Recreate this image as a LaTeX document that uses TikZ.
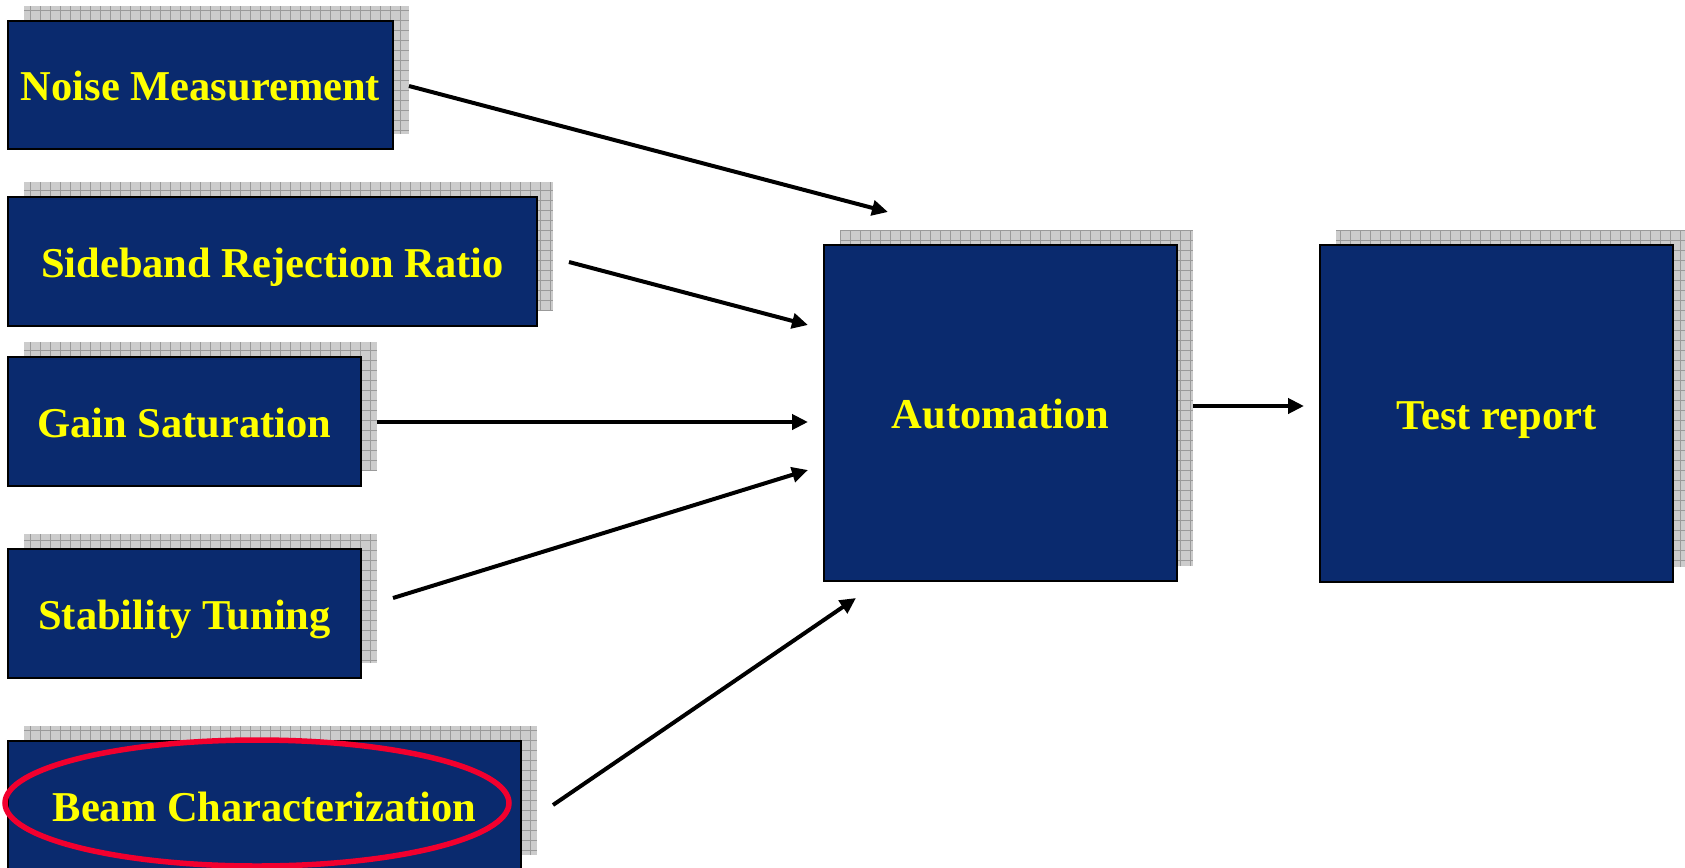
\documentclass[tikz,border=0pt]{standalone}
\usepackage{fontspec}
\setmainfont{Liberation Serif}
\usetikzlibrary{arrows.meta,backgrounds}
\definecolor{boxnavy}{HTML}{0A2A6E}
\definecolor{txtyellow}{HTML}{FFFF00}
\definecolor{shadowgray}{HTML}{CCCCCC}
\definecolor{gridgray}{HTML}{9A9A9A}
\definecolor{ringred}{HTML}{F2002E}
\tikzset{
  blockbox/.style={draw=black, line width=2.5pt, fill=boxnavy, text=txtyellow,
    font=\bfseries\fontsize{42.5}{50}\selectfont, anchor=north west,
    text height=31pt, text depth=0pt,
    inner sep=0pt, outer sep=0pt},
  flowarrow/.style={draw=black, line width=4pt, -{Triangle[length=16pt,width=15pt]}},
  shadowfill/.style={fill=shadowgray},
  shadowgrid/.style={draw=gridgray, line width=0.8pt},
  redring/.style={draw=ringred, line width=5.5pt}
}
\newcommand{\boxshadow}[1]{%
  \fill[shadowfill] ([shift={(16,-15)}]#1.south west) rectangle ([shift={(16,-15)}]#1.north east);
  \begin{scope}
    \clip ([shift={(16,-15)}]#1.south west) rectangle ([shift={(16,-15)}]#1.north east);
    \draw[shadowgrid, step=10pt] ([shift={(16,-15)}]#1.south west) grid ([shift={(16,-15)}]#1.north east);
  \end{scope}
}
\begin{document}
\begin{tikzpicture}[x=1pt,y=-1pt]
\useasboundingbox (0,0) rectangle (1685,867);
\node[blockbox, minimum width=385pt, minimum height=128pt] (noise) at (8,21) {Noise Measurement};
\node[blockbox, minimum width=529pt, minimum height=129pt] (side) at (8,197) {Sideband Rejection Ratio};
\node[blockbox, minimum width=353pt, minimum height=129pt] (gain) at (8,357) {Gain Saturation};
\node[blockbox, minimum width=353pt, minimum height=129pt] (stab) at (8,549) {Stability Tuning};
\node[blockbox, minimum width=513pt, minimum height=129pt] (beam) at (8,741) {Beam Characterization};
\node[blockbox, minimum width=353pt, minimum height=336pt] (auto) at (824,245) {Automation};
\node[blockbox, minimum width=353pt, minimum height=337pt] (test) at (1320,245) {Test report};
\begin{scope}[on background layer]
  \boxshadow{noise}
  \boxshadow{side}
  \boxshadow{gain}
  \boxshadow{stab}
  \boxshadow{beam}
  \boxshadow{auto}
  \boxshadow{test}
\end{scope}
\draw[redring] (257,803) ellipse [x radius=252, y radius=63];
% arrow end points
\coordinate (n1) at (409,86);   \coordinate (a1) at (888,212);
\coordinate (n2) at (569,262);  \coordinate (a2) at (808,325);
\coordinate (n3) at (377,422);  \coordinate (a3) at (808,422);
\coordinate (n4) at (393,598);  \coordinate (a4) at (808,470);
\coordinate (n5) at (553,805);  \coordinate (a5) at (856,598);
\coordinate (n6) at (1193,406); \coordinate (a6) at (1304,406);
\draw[flowarrow] (n1) -- (a1);
\draw[flowarrow] (n2) -- (a2);
\draw[flowarrow] (n3) -- (a3);
\draw[flowarrow] (n4) -- (a4);
\draw[flowarrow] (n5) -- (a5);
\draw[flowarrow] (n6) -- (a6);
\end{tikzpicture}
\end{document}
